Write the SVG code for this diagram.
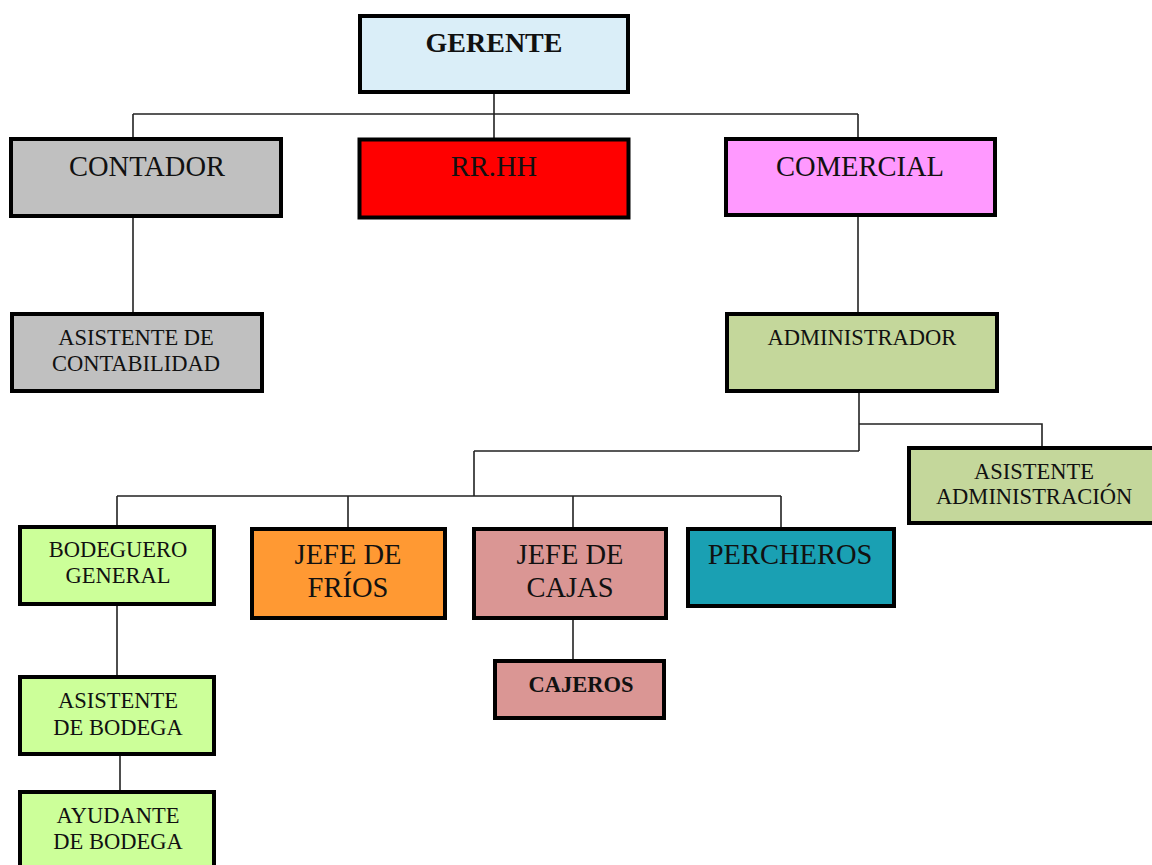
<svg xmlns="http://www.w3.org/2000/svg" width="1152" height="865" viewBox="0 0 1152 865">
<style>
.box{stroke:#000;stroke-width:4}
.t{font-family:"Liberation Serif","Times New Roman",serif;fill:#111;text-anchor:middle}
.l{font-size:28.5px}
.s{font-size:22.5px}
.b{font-weight:bold}
.c{fill:none;stroke:#222;stroke-width:1.6}
</style>
<rect width="1152" height="865" fill="#fff"/>
<g id="connectors">
<path class="c" d="M494 94V138M133 114H858M133 114V138M858 114V138"/>
<path class="c" d="M133 218V312"/>
<path class="c" d="M858 217V312"/>
<path class="c" d="M859 393V451M859 424H1042V446M474 451H859M474 451V496M117 496H781M117 496V525M348 496V527M573 496V527M781 496V527"/>
<path class="c" d="M573 620V659"/>
<path class="c" d="M117 606V675M120 756V790"/>
</g>
<g id="gerente"><rect class="box" x="360" y="16" width="268" height="76" fill="#DAEEF8"/><text class="t b" x="494" y="52" font-size="28">GERENTE</text></g>
<g id="contador"><rect class="box" x="11" y="139" width="270" height="77" fill="#C0C0C0"/><text class="t l" x="147" y="176">CONTADOR</text></g>
<g id="rrhh"><rect class="box" x="359.5" y="139.5" width="269" height="78" fill="#FF0000" stroke-width="5"/><text class="t l" x="494" y="176" fill="#300">RR.HH</text></g>
<g id="comercial"><rect class="box" x="726" y="139" width="269" height="76" fill="#FF99FF"/><text class="t l" x="860" y="176">COMERCIAL</text></g>
<g id="asistente-contabilidad"><rect class="box" x="12" y="314" width="250" height="77" fill="#C0C0C0"/><text class="t s" x="136" y="345">ASISTENTE DE</text><text class="t s" x="136" y="371">CONTABILIDAD</text></g>
<g id="administrador"><rect class="box" x="727" y="314" width="270" height="77" fill="#C4D79B"/><text class="t s" x="862" y="345">ADMINISTRADOR</text></g>
<g id="asistente-administracion"><rect class="box" x="909" y="448" width="250" height="75" fill="#C4D79B"/><text class="t s" x="1034" y="479">ASISTENTE</text><text class="t s" x="1034" y="504">ADMINISTRACIÓN</text></g>
<g id="bodeguero-general"><rect class="box" x="20" y="527" width="194" height="77" fill="#CCFF99"/><text class="t s" x="118" y="557">BODEGUERO</text><text class="t s" x="118" y="583">GENERAL</text></g>
<g id="jefe-frios"><rect class="box" x="252" y="529" width="193" height="89" fill="#FF9933"/><text class="t l" x="348" y="564">JEFE DE</text><text class="t l" x="348" y="597">FRÍOS</text></g>
<g id="jefe-cajas"><rect class="box" x="474" y="529" width="192" height="89" fill="#DA9694"/><text class="t l" x="570" y="564">JEFE DE</text><text class="t l" x="570" y="597">CAJAS</text></g>
<g id="percheros"><rect class="box" x="688" y="529" width="206" height="77" fill="#1AA0B3"/><text class="t l" x="790" y="564">PERCHEROS</text></g>
<g id="cajeros"><rect class="box" x="495" y="661" width="169" height="57" fill="#DA9694"/><text class="t s b" x="581" y="692">CAJEROS</text></g>
<g id="asistente-bodega"><rect class="box" x="20" y="677" width="194" height="77" fill="#CCFF99"/><text class="t s" x="118" y="708">ASISTENTE</text><text class="t s" x="118" y="735">DE BODEGA</text></g>
<g id="ayudante-bodega"><rect class="box" x="20" y="792" width="194" height="80" fill="#CCFF99"/><text class="t s" x="118" y="823">AYUDANTE</text><text class="t s" x="118" y="849">DE BODEGA</text></g>
</svg>
